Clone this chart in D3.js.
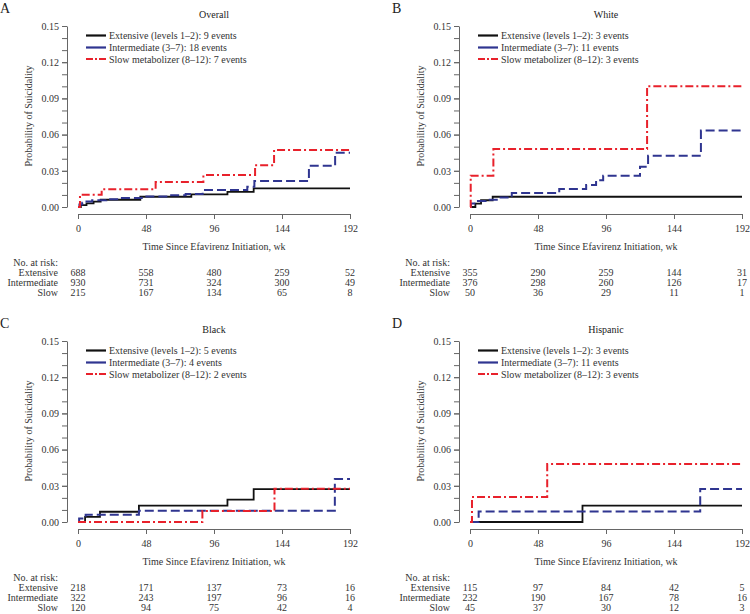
<!DOCTYPE html>
<html>
<head>
<meta charset="utf-8">
<script src="https://cdn.jsdelivr.net/npm/d3@7"></script>
<style>
  body { margin: 0; background: #fff; }
  svg { display: block; font-family: "Liberation Serif", "Times New Roman", "DejaVu Serif", Times, serif; }
  .axis text { font-family: "Liberation Serif", "Times New Roman", "DejaVu Serif", Times, serif; font-size: 10px; fill: #333; }
  .axis path, .axis line { stroke: #666; stroke-width: 1; }
</style>
</head>
<body>
<div id="chart"></div>
<script>
////////////////////////////////////////////////////////////////////
////////////////////////////  Data  ////////////////////////////////

const panelLetters = ["A", "B", "C", "D"];
const panelTitles = ["Overall", "White", "Black", "Hispanic"];
const groupNames = ["Extensive", "Intermediate", "Slow"];
const legendNames = ["Extensive (levels 1\u20132)", "Intermediate (3\u20137)", "Slow metabolizer (8\u201312)"];
const eventCounts = [[9, 18, 7], [3, 11, 3], [5, 4, 2], [3, 11, 3]];

const xTicks = [0, 48, 96, 144, 192];
const yMajor = [0, 0.03, 0.06, 0.09, 0.12, 0.15];
const yMinor = d3.range(0, 16).map((d) => d / 100);

// no. at risk, per panel: rows = groups, cols = xTicks
const riskOverall = [[688, 558, 480, 259, 52], [930, 731, 324, 300, 49], [215, 167, 134, 65, 8]];
const riskWhite = [[355, 290, 259, 144, 31], [376, 298, 260, 126, 17], [50, 36, 29, 11, 1]];
const riskBlack = [[218, 171, 137, 73, 16], [322, 243, 197, 96, 16], [120, 94, 75, 42, 4]];
const riskHispanic = [[115, 97, 84, 42, 5], [232, 190, 167, 78, 16], [45, 37, 30, 12, 3]];

// step curves [week, probability]
const overallExtensive = [[0, 0], [2, 0.0015], [6, 0.003], [11, 0.0045], [16, 0.006], [44, 0.0085], [80, 0.0105], [105.5, 0.0125], [124, 0.0155]];
const overallIntermediate = [[0, 0], [1, 0.002], [3, 0.0035], [6, 0.0045], [10, 0.0055], [20, 0.0065], [31, 0.0075], [45, 0.0088], [64, 0.0098], [76, 0.0108], [88, 0.0141], [119.5, 0.0168], [124.5, 0.0215], [163, 0.0342], [181.5, 0.045]];
const overallSlow = [[0, 0], [1.4, 0.0102], [16.7, 0.0147], [54.8, 0.0208], [88.5, 0.0265], [125, 0.0347], [138.4, 0.0472]];

const whiteExtensive = [[0, 0], [3.8, 0.0028], [7.8, 0.0056], [16, 0.0085]];
const whiteIntermediate = [[0, 0], [0.7, 0.003], [4, 0.005], [11, 0.006], [20, 0.0078], [29.5, 0.0115], [63, 0.015], [82, 0.0182], [89, 0.0222], [94, 0.026], [120, 0.0334], [125.7, 0.0425], [163, 0.0633]];
const whiteSlow = [[0, 0], [0.5, 0.026], [16.5, 0.048], [125, 0.1]];

const blackExtensive = [[0, 0], [5, 0.0042], [15.5, 0.0085], [43, 0.0135], [105.5, 0.0185], [124, 0.0273]];
const blackIntermediate = [[0, 0], [0.8, 0.003], [5.4, 0.006], [43, 0.0093], [181.3, 0.0356]];
const blackSlow = [[0, 0], [87.8, 0.0092], [138.7, 0.0275]];

const hispanicExtensive = [[0, 0], [79.4, 0.0135]];
const hispanicIntermediate = [[0, 0], [6.1, 0.0086], [162.5, 0.0273]];
const hispanicSlow = [[0, 0], [1.4, 0.0207], [54.5, 0.048]];

const panelCurves = [
  [overallExtensive, overallIntermediate, overallSlow],
  [whiteExtensive, whiteIntermediate, whiteSlow],
  [blackExtensive, blackIntermediate, blackSlow],
  [hispanicExtensive, hispanicIntermediate, hispanicSlow],
];
const panelRisk = [riskOverall, riskWhite, riskBlack, riskHispanic];

////////////////////////////////////////////////////////////////////
////////////////////////////  Init  ////////////////////////////////

const width = 750;
const height = 614;
const svg = d3.select("#chart").append("svg").attr("width", width).attr("height", height);

const colors = ["#111111", "#2f3590", "#e8212b"];
const dashes = [null, "9,4", "8,3,2,3"];
const widths = [1.8, 2, 2];
const fontFam = "'Liberation Serif', 'Times New Roman', 'DejaVu Serif', Times, serif";

const colStep = 392;
const rowStep = 315;

const stepLine = (x, y) =>
  d3.line().x((d) => x(d[0])).y((d) => y(d[1])).curve(d3.curveStepAfter);

panelTitles.forEach((title, i) => {
  const dx = (i % 2) * colStep;
  const dy = Math.floor(i / 2) * rowStep;
  const g = svg.append("g").attr("transform", `translate(${dx}, ${dy})`);

  const x = d3.scaleLinear().domain([0, 192]).range([78, 350]);
  const y = d3.scaleLinear().domain([0, 0.15]).range([207, 26]);

  // panel letter + title
  g.append("text").attr("x", 0).attr("y", 13)
    .style("font-family", fontFam).style("font-size", "14px").attr("fill", "#222")
    .text(panelLetters[i]);
  g.append("text").attr("x", 214).attr("y", 18).attr("text-anchor", "middle")
    .style("font-family", fontFam).style("font-size", "10px").attr("fill", "#222")
    .text(title);

  // y axis
  g.append("g").attr("class", "axis").attr("transform", "translate(67,0)")
    .call(d3.axisLeft(y).tickValues(yMajor).tickFormat(d3.format(".2f")).tickSize(5).tickSizeOuter(0).tickPadding(3));
  g.append("g").attr("class", "axis").attr("transform", "translate(67,0)")
    .call(d3.axisLeft(y).tickValues(yMinor).tickFormat("").tickSize(5).tickSizeOuter(0))
    .call((a) => a.select(".domain").remove());

  // x axis
  g.append("g").attr("class", "axis").attr("transform", "translate(0,214)")
    .call(d3.axisBottom(x).tickValues(xTicks).tickSize(5).tickSizeOuter(0).tickPadding(6));
  svg.selectAll(".axis").attr("font-family", null);

  g.append("text")
    .attr("transform", "translate(32,116) rotate(-90)")
    .attr("text-anchor", "middle")
    .style("font-family", fontFam).style("font-size", "10px").attr("fill", "#333")
    .text("Probability of Suicidality");

  g.append("text").attr("x", 214).attr("y", 249.5).attr("text-anchor", "middle")
    .style("font-family", fontFam).style("font-size", "10px").attr("fill", "#333")
    .text("Time Since Efavirenz Initiation, wk");

  // curves
  const line = stepLine(x, y);
  panelCurves[i].forEach((pts, k) => {
    const data = pts.concat([[192, pts[pts.length - 1][1]]]);
    g.append("path")
      .datum(data)
      .attr("d", line)
      .attr("fill", "none")
      .attr("stroke", colors[k])
      .attr("stroke-width", widths[k])
      .attr("stroke-dasharray", dashes[k]);
  });

  // legend
  const legendY = [39, 51, 62.5];
  legendNames.forEach((name, k) => {
    g.append("line")
      .attr("x1", 86).attr("x2", 106)
      .attr("y1", legendY[k] - 3.5).attr("y2", legendY[k] - 3.5)
      .attr("stroke", colors[k]).attr("stroke-width", 2.2)
      .attr("stroke-dasharray", k === 2 ? "7,2,2,2" : null);
    g.append("text").attr("x", 109).attr("y", legendY[k])
      .style("font-family", fontFam).style("font-size", "10px").attr("fill", "#333")
      .text(`${name}: ${eventCounts[i][k]} events`);
  });

  // number at risk table
  g.append("text").attr("x", 58).attr("y", 265.5).attr("text-anchor", "end")
    .style("font-family", fontFam).style("font-size", "10px").attr("fill", "#333")
    .text("No. at risk:");
  const rowY = [276, 285.5, 295.5];
  groupNames.forEach((grp, k) => {
    g.append("text").attr("x", 58).attr("y", rowY[k]).attr("text-anchor", "end")
      .style("font-family", fontFam).style("font-size", "10px").attr("fill", "#333")
      .text(grp);
    g.selectAll(null)
      .data(panelRisk[i][k])
      .enter()
      .append("text")
      .attr("x", (d, j) => x(xTicks[j]))
      .attr("y", rowY[k])
      .attr("text-anchor", "middle")
      .style("font-family", fontFam).style("font-size", "10px").attr("fill", "#333")
      .text((d) => d);
  });
});
</script>
</body>
</html>
